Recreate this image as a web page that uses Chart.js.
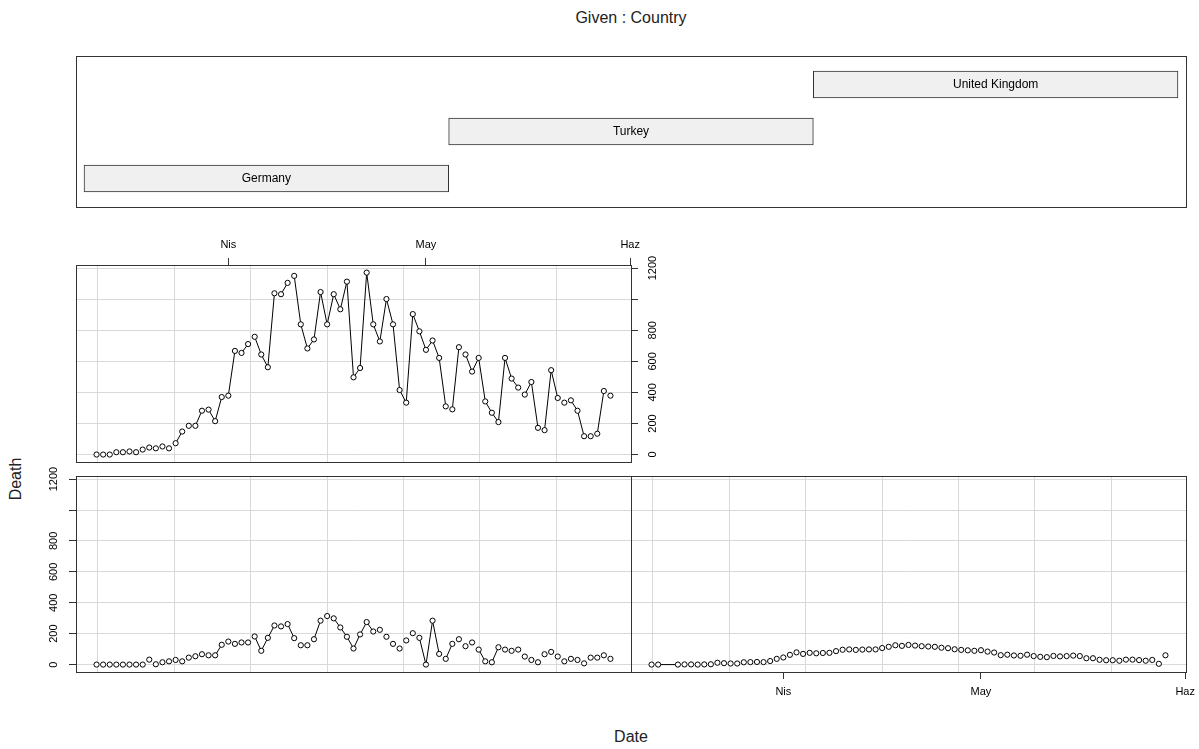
<!DOCTYPE html>
<html>
<head>
<meta charset="utf-8">
<script src="https://cdn.jsdelivr.net/npm/chart.js@4.4.1/dist/chart.umd.min.js"></script>
<style>
  body { margin: 0; background: #fff; font-family: "Liberation Sans", Arial, sans-serif; }
  #wrap { position: relative; width: 1199px; height: 749px; overflow: hidden; }
  canvas { position: absolute; }
  .lbl { position: absolute; font-size: 16px; color: #222; white-space: nowrap; }
</style>
</head>
<body>
<div id="wrap">
  <div class="lbl" style="left:631px; top:18px; transform:translate(-50%,-50%);">Given : Country</div>
  <div class="lbl" style="left:16px; top:479px; transform:translate(-50%,-50%) rotate(-90deg);">Death</div>
  <div class="lbl" style="left:631px; top:737px; transform:translate(-50%,-50%);">Date</div>
  <canvas id="given" width="1199" height="215" style="left:0; top:0;"></canvas>
  <canvas id="ukChart" width="700" height="245" style="left:0; top:225px;"></canvas>
  <canvas id="deChart" width="640" height="214" style="left:0; top:466px;"></canvas>
  <canvas id="trChart" width="639" height="240" style="left:560px; top:466px;"></canvas>
</div>
<script>
// days counted from 2020-03-12 (day 0) to 2020-05-29 (day 78)
const countries = ['Germany', 'Turkey', 'United Kingdom'];
const countryLevels = [1, 2, 3];

const monthDays = [20, 50, 81];
const monthLabels = ['Nis', 'May', 'Haz'];
const xGrid = [0.2, 11.8, 23.4, 35.0, 46.6, 58.2, 69.8];
const yTicks = [0, 200, 400, 600, 800, 1000, 1200];
const yLabels = ['0', '200', '400', '600', '800', '', '1200'];

const ukDeaths = [
    0, 0, 0, 15, 15, 20, 15, 32, 45, 40,
    52, 40, 73, 148, 185, 185, 282, 289, 215, 370,
    379, 667, 654, 711, 758, 644, 562, 1038, 1032, 1105,
    1150, 838, 683, 741, 1046, 838, 1032, 935, 1113, 497,
    557, 1171, 838, 728, 1001, 838, 415, 334, 904, 793,
    674, 734, 622, 310, 291, 691, 644, 534, 622, 342,
    269, 209, 622, 489, 431, 386, 467, 172, 157, 543,
    364, 334, 349, 282, 118, 118, 134, 409, 379
];

const germanyDeaths = [
    0, 0, 0, 0, 0, 0, 0, 0, 32, 2,
    15, 21, 30, 21, 45, 54, 67, 60, 60, 128,
    149, 134, 143, 143, 182, 89, 173, 253, 247, 262,
    171, 125, 125, 164, 284, 314, 299, 240, 180, 104,
    195, 275, 214, 225, 180, 134, 104, 156, 203, 173,
    0, 284, 69, 37, 134, 164, 119, 143, 97, 21,
    15, 112, 97, 89, 97, 52, 30, 15, 67, 82,
    52, 21, 37, 30, 8, 45, 45, 60, 37
];

// Turkey has no rows for day 2 and 3
const turkeyDays = [
    0, 1, 4, 5, 6, 7, 8, 9, 10, 11,
    12, 13, 14, 15, 16, 17, 18, 19, 20, 21,
    22, 23, 24, 25, 26, 27, 28, 29, 30, 31,
    32, 33, 34, 35, 36, 37, 38, 39, 40, 41,
    42, 43, 44, 45, 46, 47, 48, 49, 50, 51,
    52, 53, 54, 55, 56, 57, 58, 59, 60, 61,
    62, 63, 64, 65, 66, 67, 68, 69, 70, 71,
    72, 73, 74, 75, 76, 77, 78
];
const turkeyDeaths = [
    0, 0, 0, 1, 1, 0, 1, 2, 12, 9,
    7, 7, 15, 16, 17, 16, 23, 37, 46, 63,
    79, 69, 76, 73, 75, 76, 87, 96, 98, 95,
    97, 98, 98, 107, 115, 125, 121, 127, 123, 119,
    117, 115, 109, 106, 99, 95, 92, 89, 93, 84,
    78, 61, 64, 59, 57, 64, 55, 50, 48, 56,
    53, 55, 58, 55, 41, 41, 31, 28, 28, 25,
    32, 32, 29, 25, 30, 5, 60
];

const xMin = -3.12;
const xMax = 81.12;
const yMin = -48;
const yMax = 1220;

Chart.defaults.font.family = '"Liberation Sans", Arial, sans-serif';
Chart.defaults.color = '#000';

const framePlugin = {
    id: 'frame',
    afterDraw: chart => {
        const a = chart.chartArea;
        const ctx = chart.ctx;
        ctx.save();
        ctx.strokeStyle = '#333';
        ctx.lineWidth = 1;
        ctx.strokeRect(Math.round(a.left) + 0.5, Math.round(a.top) + 0.5,
            Math.round(a.right - a.left), Math.round(a.bottom - a.top));
        ctx.restore();
    }
};

const stripTextPlugin = {
    id: 'stripText',
    afterDatasetsDraw: chart => {
        const ctx = chart.ctx;
        const meta = chart.getDatasetMeta(0);
        ctx.save();
        ctx.font = '12px "Liberation Sans", Arial, sans-serif';
        ctx.fillStyle = '#000';
        ctx.textAlign = 'center';
        ctx.textBaseline = 'middle';
        meta.data.forEach((bar, i) => {
            ctx.fillText(countries[i], (bar.x + bar.base) / 2, bar.y);
        });
        ctx.restore();
    }
};

// the conditioning panel on top
new Chart(document.getElementById('given'), {
    type: 'bar',
    plugins: [framePlugin, stripTextPlugin],
    data: {
        datasets: [{
            data: countryLevels.map(l => ({ x: [l - 0.5, l + 0.5], y: l })),
            backgroundColor: '#f0f0f0',
            borderColor: '#333',
            borderWidth: 1,
            borderSkipped: false,
            barThickness: 27
        }]
    },
    options: {
        indexAxis: 'y',
        responsive: false,
        animation: false,
        events: [],
        layout: { padding: { left: 76, right: 13, top: 56, bottom: 8 } },
        plugins: { legend: { display: false }, tooltip: { enabled: false } },
        scales: {
            x: { type: 'linear', min: 0.478, max: 3.522, display: false, offset: false },
            y: { type: 'linear', min: 0.394, max: 3.606, display: false, offset: false }
        }
    }
});

function gridAxis(position) {
    return {
        type: 'linear',
        position: position,
        min: xMin,
        max: xMax,
        afterBuildTicks: s => { s.ticks = xGrid.map(v => ({ value: v })); },
        afterFit: s => { s.height = 0; s.paddingLeft = 0; s.paddingRight = 0; },
        grid: { color: '#d9d9d9', drawTicks: false },
        border: { display: false },
        ticks: { display: false }
    };
}

function monthAxis(position, height) {
    return {
        type: 'linear',
        position: position,
        min: xMin,
        max: xMax,
        afterBuildTicks: s => { s.ticks = monthDays.map(v => ({ value: v })); },
        afterFit: s => { s.height = height; s.paddingLeft = 0; s.paddingRight = 0; },
        grid: { drawOnChartArea: false, tickLength: 7, color: '#333', tickColor: '#333' },
        border: { display: false },
        ticks: {
            autoSkip: false,
            maxRotation: 0,
            padding: 6,
            font: { size: 11 },
            callback: (v, i) => monthLabels[i]
        }
    };
}

function yAxis(position, width, showLabels) {
    return {
        type: 'linear',
        position: position,
        min: yMin,
        max: yMax,
        afterBuildTicks: s => { s.ticks = yTicks.map(v => ({ value: v })); },
        afterFit: s => { s.width = width; s.paddingTop = 0; s.paddingBottom = 0; },
        grid: { color: '#d9d9d9', tickColor: '#333', tickLength: 7, drawTicks: showLabels },
        border: { display: false },
        ticks: {
            display: showLabels,
            autoSkip: false,
            minRotation: 90,
            maxRotation: 90,
            crossAlign: 'center',
            padding: 3,
            font: { size: 11 },
            callback: (v, i) => yLabels[i]
        }
    };
}

// like R's type = "b": short joins between neighbouring circles are left out
function joinColor(ctx) {
    const dx = ctx.p1.x - ctx.p0.x;
    const dy = ctx.p1.y - ctx.p0.y;
    return Math.hypot(dx, dy) < 11 ? 'rgba(0,0,0,0)' : '#000';
}

function seriesSet(points) {
    return {
        data: points,
        borderColor: '#000',
        borderWidth: 1,
        tension: 0,
        fill: false,
        segment: { borderColor: joinColor },
        pointRadius: 2.6,
        pointBorderWidth: 1,
        pointBorderColor: '#000',
        pointBackgroundColor: '#fff'
    };
}

const baseOptions = {
    responsive: false,
    animation: false,
    events: [],
    plugins: { legend: { display: false }, tooltip: { enabled: false } }
};

// United Kingdom: top left, month axis above, values on the right
new Chart(document.getElementById('ukChart'), {
    type: 'line',
    plugins: [framePlugin],
    data: { datasets: [seriesSet(ukDeaths.map((v, i) => ({ x: i, y: v })))] },
    options: {
        ...baseOptions,
        layout: { padding: { left: 76, right: 0, top: 0, bottom: 8 } },
        scales: {
            x: gridAxis('bottom'),
            xm: monthAxis('top', 40),
            y: yAxis('right', 69, true)
        }
    }
});

// Germany: bottom left, values on the left
new Chart(document.getElementById('deChart'), {
    type: 'line',
    plugins: [framePlugin],
    data: { datasets: [seriesSet(germanyDeaths.map((v, i) => ({ x: i, y: v })))] },
    options: {
        ...baseOptions,
        layout: { padding: { left: 0, right: 9, top: 10, bottom: 8 } },
        scales: {
            x: gridAxis('bottom'),
            y: yAxis('left', 76, true)
        }
    }
});

// Turkey: bottom right, month axis below
new Chart(document.getElementById('trChart'), {
    type: 'line',
    plugins: [framePlugin],
    data: { datasets: [seriesSet(turkeyDeaths.map((v, i) => ({ x: turkeyDays[i], y: v })))] },
    options: {
        ...baseOptions,
        layout: { padding: { left: 71, right: 13, top: 10, bottom: 0 } },
        scales: {
            x: gridAxis('top'),
            xm: monthAxis('bottom', 34),
            y: yAxis('left', 0, false)
        }
    }
});
</script>
</body>
</html>
